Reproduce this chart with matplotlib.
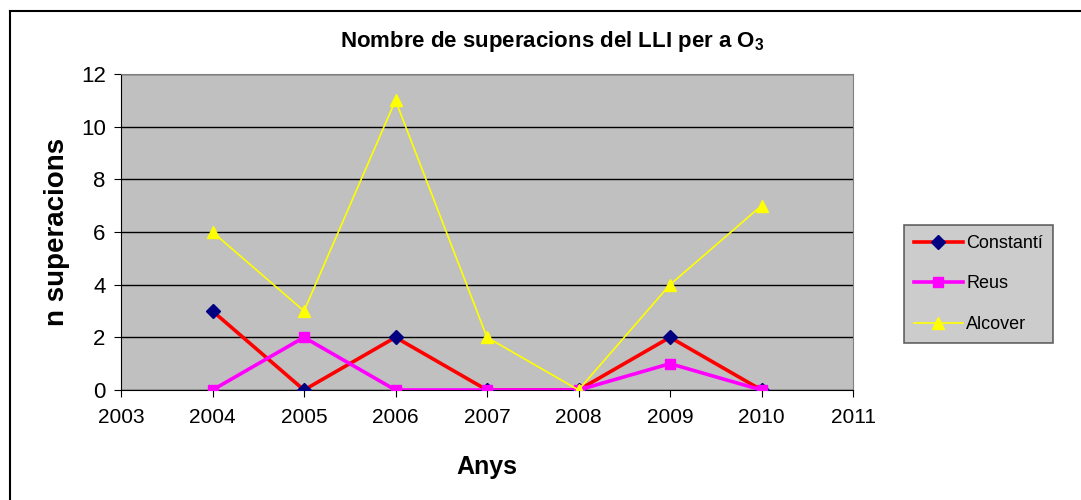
import matplotlib
matplotlib.use("Agg")
import matplotlib.pyplot as plt
from matplotlib.lines import Line2D

plt.rcParams['font.family'] = ['Liberation Sans', 'DejaVu Sans']

years = [2004, 2005, 2006, 2007, 2008, 2009, 2010]
constanti = [3, 0, 2, 0, 0, 2, 0]
reus = [0, 2, 0, 0, 0, 1, 0]
alcover = [6, 3, 11, 2, 0, 4, 7]

W, H = 1081, 500
fig = plt.figure(figsize=(W / 100, H / 100), dpi=100)
# only the top and left edges of the chart frame are visible
fig.add_artist(Line2D([9.5 / W, 9.5 / W], [0, 1 - 10.5 / H], color='black', linewidth=1.5))
fig.add_artist(Line2D([9.5 / W, 1], [1 - 10.5 / H, 1 - 10.5 / H], color='black', linewidth=1.5))

ax = fig.add_axes([121 / W, 1 - 390 / H, 732 / W, 316 / H])
ax.set_facecolor('#C0C0C0')

ax.plot(years, constanti, color='red', linewidth=2.6, marker='D', markersize=7,
        markerfacecolor='#000080', markeredgecolor='#000080', label='Constantí', zorder=3)
ax.plot(years, reus, color='magenta', linewidth=2.6, marker='s', markersize=7,
        markerfacecolor='magenta', markeredgecolor='magenta', label='Reus', zorder=3)
ax.plot(years, alcover, color='yellow', linewidth=1.2, marker='^', markersize=9,
        markerfacecolor='yellow', markeredgecolor='yellow', label='Alcover', zorder=3)

ax.set_xlim(2003, 2011)
ax.set_ylim(0, 12)
ax.set_xticks(range(2003, 2012))
ax.set_yticks(range(0, 13, 2))
ax.yaxis.grid(True, color='black', linewidth=1)
ax.set_axisbelow(True)
for s in ax.spines.values():
    s.set_color('#808080')
ax.spines['left'].set_color('black')
ax.spines['bottom'].set_color('black')
ax.tick_params(axis='x', labelsize=15, direction='out', length=5, color='black', pad=8)
ax.tick_params(axis='y', labelsize=16, direction='out', length=5, color='black', pad=6)

fig.text(552 / W, 1 - 41 / H, 'Nombre de superacions del LLI per a O$_\\mathregular{3}$',
         fontsize=16, fontweight='bold', ha='center', va='center')
ax.set_xlabel('Anys', fontsize=18, fontweight='bold', labelpad=20)
ax.set_ylabel('n superacions', fontsize=20, fontweight='bold', labelpad=8)

leg = fig.legend(loc='upper left', bbox_to_anchor=(904 / W, 1 - 225 / H),
                 fontsize=13, frameon=True, fancybox=False, edgecolor='#404040',
                 handlelength=2.7, borderpad=0.55, labelspacing=1.3, handletextpad=0.2,
                 borderaxespad=0)
leg.get_frame().set_facecolor('#C0C0C0')
leg.get_frame().set_linewidth(1.2)

fig.savefig('out.png', dpi=100, facecolor='white')
